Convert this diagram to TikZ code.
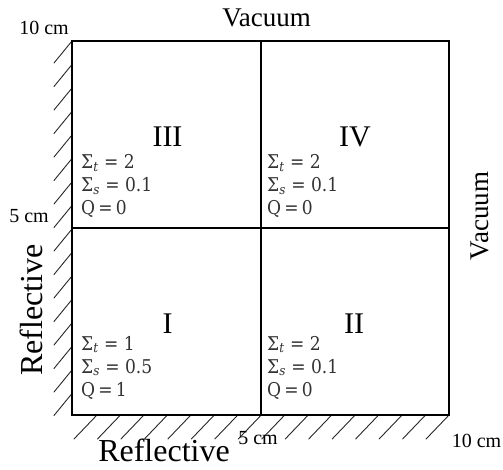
\RequirePackage{fix-cm}
\documentclass[tikz,border=0pt]{standalone}
\usepackage[no-math]{fontspec}
\setmainfont{Liberation Serif}
\newfontfamily\propfont{DejaVu Serif Condensed}
\usetikzlibrary{calc}
\begin{document}
\begin{tikzpicture}[x=1pt,y=-1pt,
  edge/.style={line width=2pt},
  hatch/.style={line width=0.9pt, line cap=round, draw=black!85},
  big/.style={font=\fontsize{27}{30}\selectfont, inner sep=0pt, anchor=base},
  refl/.style={font=\fontsize{32}{36}\selectfont, inner sep=0pt, anchor=base},
  dimlabel/.style={font=\fontsize{20}{22}\selectfont, inner sep=0pt, anchor=base},
  roman/.style={font=\fontsize{30}{32}\selectfont, inner sep=0pt, anchor=base},
  prop/.style={font=\propfont\fontsize{19}{22}\selectfont, inner sep=0pt, anchor=base west, text=black!80}]
\useasboundingbox (0,0) rectangle (503,470);
% corners and mid points
\coordinate (NW) at (72,41);
\coordinate (NE) at (449,41);
\coordinate (SW) at (72,415);
\coordinate (SE) at (449,415);
\coordinate (N) at (261,41);
\coordinate (S) at (261,415);
\coordinate (W) at (72,228);
\coordinate (E) at (449,228);
% hatching
\foreach \i in {0,...,15} {
  \draw[hatch] ($(NW)+(0,23.5*\i)$) -- ++(-18,22);
  \draw[hatch] ($(SW)+(25+23.47*\i,0)$) -- ++(-23,24);
}
% box
\draw[edge] (NW) rectangle (SE);
\draw[edge] (N) -- (S);
\draw[edge] (W) -- (E);
% boundary labels
\node[big] (vtop) at (266.5,27) {Vacuum};
\node[big, rotate=90] (vright) at (488,216) {Vacuum};
\node[refl, rotate=90] (rleft) at (42,310) {Reflective};
\node[refl] (rbot) at (164,461) {Reflective};
% dimensions
\node[dimlabel] (d10a) at (44,35) {10 cm};
\node[dimlabel] (d5a) at (29,223) {5 cm};
\node[dimlabel] (d5b) at (258,444) {5 cm};
\node[dimlabel] (d10b) at (476.5,447) {10 cm};
% region numbers
\node[roman] (r3) at (167.5,147) {III};
\node[roman] (r4) at (355,147) {IV};
\node[roman] (r1) at (167.5,333) {I};
\node[roman] (r2) at (354,333) {II};
% properties
\node[prop] (p3a) at (81,169) {Σ\textsubscript{\textit{t}} = 2};
\node[prop] (p3b) at (81,192) {Σ\textsubscript{\textit{s}} = 0.1};
\node[prop] (p3c) at (81,215) {Q\,=\,0};
\node[prop] (p4a) at (267,169) {Σ\textsubscript{\textit{t}} = 2};
\node[prop] (p4b) at (267,192) {Σ\textsubscript{\textit{s}} = 0.1};
\node[prop] (p4c) at (267,215) {Q\,=\,0};
\node[prop] (p1a) at (81,350) {Σ\textsubscript{\textit{t}} = 1};
\node[prop] (p1b) at (81,373) {Σ\textsubscript{\textit{s}} = 0.5};
\node[prop] (p1c) at (81,396) {Q\,=\,1};
\node[prop] (p2a) at (267,350) {Σ\textsubscript{\textit{t}} = 2};
\node[prop] (p2b) at (267,373) {Σ\textsubscript{\textit{s}} = 0.1};
\node[prop] (p2c) at (267,396) {Q\,=\,0};
\end{tikzpicture}
\end{document}
